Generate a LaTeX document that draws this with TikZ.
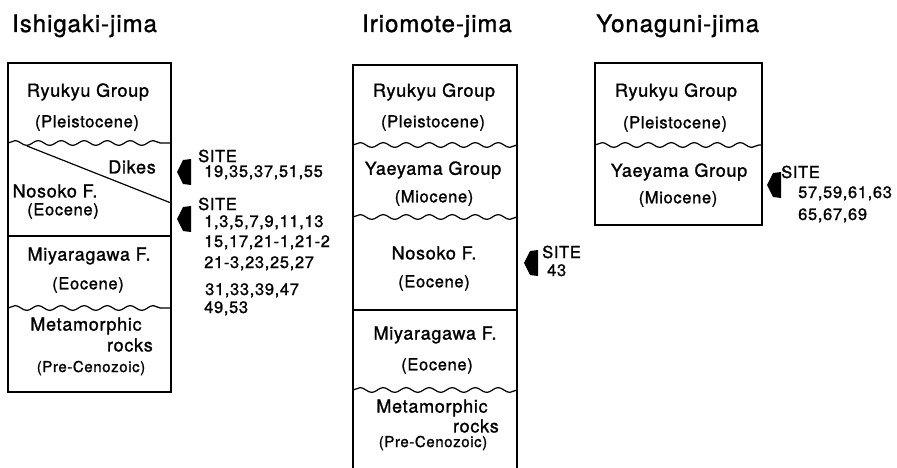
\documentclass[tikz,border=0pt]{standalone}
\usepackage{fontspec}
\setmainfont{TeX Gyre Heros}[LetterSpace=4, FakeBold=1.2]
\usetikzlibrary{decorations.pathmorphing}

\begin{document}
\begin{tikzpicture}[%
    x=1pt, y=-1pt,
    every node/.style={inner sep=1pt},
    column/.style={line width=1.6pt},
    contact/.style={line width=1.2pt},
    wavy/.style={line width=1.2pt, decorate,
      decoration={snake, segment length=23pt, amplitude=2.4pt}},
    island/.style={anchor=base west, font=\fontsize{24}{28}\selectfont},
    unit/.style={font=\fontsize{18}{21}\selectfont},
    age/.style={font=\fontsize{16.5}{19}\selectfont},
    sites/.style={anchor=base west, font=\fontsize{16.5}{20}\selectfont}
  ]
    \useasboundingbox (0,0) rectangle (897,468);

    % titles
    \node[island] (Ti) at (11,32)  {Ishigaki-jima};
    \node[island] (Tr) at (361,32) {Iriomote-jima};
    \node[island] (Ty) at (595,32) {Yonaguni-jima};

    % Ishigaki-jima
    \draw[column] (8,63) rectangle (171,392);
    \draw[wavy] (8,143) -- (171,143);
    \draw[contact] (8,236) -- (171,236);
    \draw[wavy] (8,308) -- (171,308);
    \draw[contact] (27,146) -- (171,203);

    \node[unit] (iR)  at (88,92)   {Ryukyu Group};
    \node[age]  (iRa) at (87,123)  {(Pleistocene)};
    \node[unit, anchor=east] (iD) at (157,167) {Dikes};
    \node[unit] (iN)  at (55,191)  {Nosoko F.};
    \node[age]  (iNa) at (63,211)  {(Eocene)};
    \node[unit] (iM)  at (89,256)  {Miyaragawa F.};
    \node[age]  (iMa) at (88,285)  {(Eocene)};
    \node[unit] (iB)  at (86,326)  {Metamorphic};
    \node[unit, anchor=east] (iBr) at (154,345) {rocks};
    \node[age, font=\fontsize{15}{18}\selectfont] (iBa) at (91,368) {(Pre-Cenozoic)};

    \coordinate (ia1) at (177,172);
    \coordinate (ia2) at (177,219);
    \node[sites] (is1) at (197,162) {SITE};
    \node[sites] (is1n) at (203,177) {19,35,37,51,55};
    \node[sites] (is2) at (197,210) {SITE};
    \node[sites] (is2a) at (203,227) {1,3,5,7,9,11,13};
    \node[sites] (is2b) at (203,247) {15,17,21-1,21-2};
    \node[sites] (is2c) at (203,268) {21-3,23,25,27};
    \node[sites] (is2d) at (204,295) {31,33,39,47};
    \node[sites] (is2e) at (203,313) {49,53};

    % Iriomote-jima
    \draw[column] (353,470) -- (353,65) -- (517,65) -- (517,470);
    \draw[wavy] (353,145) -- (517,145);
    \draw[wavy] (353,217) -- (517,217);
    \draw[contact] (353,310) -- (517,310);
    \draw[wavy] (353,390) -- (517,390);

    \node[unit] (rR)  at (434,92)  {Ryukyu Group};
    \node[age]  (rRa) at (433,123) {(Pleistocene)};
    \node[unit] (rY)  at (433,170) {Yaeyama Group};
    \node[age]  (rYa) at (434,198) {(Miocene)};
    \node[unit] (rN)  at (434,253) {Nosoko F.};
    \node[age]  (rNa) at (434,283) {(Eocene)};
    \node[unit] (rM)  at (435,335) {Miyaragawa F.};
    \node[age]  (rMa) at (437,366) {(Eocene)};
    \node[unit] (rB)  at (432,408) {Metamorphic};
    \node[unit, anchor=east] (rBr) at (500,426) {rocks};
    \node[age, font=\fontsize{15}{18}\selectfont] (rBa) at (433,443) {(Pre-Cenozoic)};

    \coordinate (ra) at (524,263);
    \node[sites] (rs) at (541,258) {SITE};
    \node[sites] (rsn) at (546,276) {43};

    % Yonaguni-jima
    \draw[column] (595,63) rectangle (762,225);
    \draw[wavy] (595,145) -- (762,145);

    \node[unit] (yR)  at (676,92)  {Ryukyu Group};
    \node[age]  (yRa) at (675,124) {(Pleistocene)};
    \node[unit] (yY)  at (679,172) {Yaeyama Group};
    \node[age]  (yYa) at (678,199) {(Miocene)};

    \coordinate (ya) at (767,185);
    \node[sites] (ys) at (780,178) {SITE};
    \node[sites] (ysa) at (797,198) {57,59,61,63};
    \node[sites] (ysb) at (797,220) {65,67,69};

    % site arrows
    \foreach \p in {ia1,ia2,ra,ya}
      \fill (\p) -- ++(6,-12) -- ++(8,-1) -- ++(0,26) -- ++(-8,-1) -- cycle;
\end{tikzpicture}
\end{document}
